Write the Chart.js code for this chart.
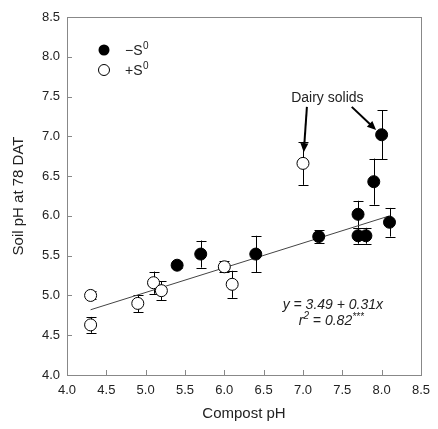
<!DOCTYPE html>
<html><head><meta charset="utf-8">
<script src="https://cdn.jsdelivr.net/npm/chart.js@4/dist/chart.umd.min.js"></script>
<style>html,body{margin:0;padding:0;background:#fff}canvas{display:block}</style>
</head><body>
<canvas id="c" width="438" height="429"></canvas>
<script>
// -S0 (filled)
const noSx = [5.4, 5.7, 6.4, 7.2, 7.7, 7.7, 7.8, 7.9, 8.0, 8.1];
const noSy = [5.38, 5.52, 5.52, 5.74, 6.02, 5.75, 5.75, 6.43, 7.02, 5.92];
const noSe = [0.03, 0.17, 0.23, 0.08, 0.17, 0.1, 0.1, 0.29, 0.31, 0.18];
// +S0 (open)
const withSx = [4.3, 4.3, 4.9, 5.1, 5.2, 6.0, 6.1, 7.0];
const withSy = [5.0, 4.63, 4.90, 5.16, 5.06, 5.36, 5.14, 6.66];
const withSe = [0.05, 0.1, 0.11, 0.14, 0.12, 0.07, 0.17, 0.27];
// regression line endpoints
const fitX = [4.3, 8.1];
const fitY = [4.82, 6.00];
const ticks = [4.0, 4.5, 5.0, 5.5, 6.0, 6.5, 7.0, 7.5, 8.0, 8.5];

const pts = (xs, ys) => xs.map((x, i) => ({x, y: ys[i]}));
const FONT = 'Liberation Sans, Arial, sans-serif';

const plugin = {
  id: 'extras',
  beforeDatasetsDraw(chart) {
    const ctx = chart.ctx, xs = chart.scales.x, ys = chart.scales.y;
    ctx.save();
    ctx.strokeStyle = '#000'; ctx.lineWidth = 1;
    const bars = (X, Y, E) => X.forEach((x, i) => {
      const px = Math.round(xs.getPixelForValue(x)) + 0.5;
      const t = ys.getPixelForValue(Y[i] + E[i]), b = ys.getPixelForValue(Y[i] - E[i]);
      ctx.beginPath();
      ctx.moveTo(px, t); ctx.lineTo(px, b);
      ctx.moveTo(px - 5, Math.round(t) + 0.5); ctx.lineTo(px + 5, Math.round(t) + 0.5);
      ctx.moveTo(px - 5, Math.round(b) + 0.5); ctx.lineTo(px + 5, Math.round(b) + 0.5);
      ctx.stroke();
    });
    bars(noSx, noSy, noSe);
    bars(withSx, withSy, withSe);
    ctx.restore();
  },
  afterDraw(chart) {
    const ctx = chart.ctx, xs = chart.scales.x, ys = chart.scales.y, a = chart.chartArea;
    ctx.save();
    // box
    ctx.strokeStyle = '#888'; ctx.lineWidth = 1;
    ctx.strokeRect(Math.round(a.left) + 0.5, Math.round(a.top) + 0.5, Math.round(a.right - a.left), Math.round(a.bottom - a.top));
    // inward ticks
    ctx.beginPath();
    ticks.forEach(v => {
      const px = Math.round(xs.getPixelForValue(v)) + 0.5;
      ctx.moveTo(px, a.bottom); ctx.lineTo(px, a.bottom - 5);
      const py = Math.round(ys.getPixelForValue(v)) + 0.5;
      ctx.moveTo(a.left, py); ctx.lineTo(a.left + 5, py);
    });
    ctx.stroke();
    // legend
    const lx = 104, ly1 = 50, ly2 = 70;
    ctx.fillStyle = '#000';
    ctx.beginPath(); ctx.arc(lx, ly1, 5.5, 0, Math.PI * 2); ctx.fill();
    ctx.fillStyle = '#fff'; ctx.strokeStyle = '#000';
    ctx.beginPath(); ctx.arc(lx, ly2, 5.5, 0, Math.PI * 2); ctx.fill(); ctx.stroke();
    ctx.fillStyle = '#222'; ctx.textBaseline = 'middle'; ctx.textAlign = 'left';
    const sup = (main, s, x, y) => {
      ctx.font = '14px ' + FONT;
      ctx.fillText(main, x, y + 1);
      const w = ctx.measureText(main).width;
      ctx.font = '10px ' + FONT;
      ctx.fillText(s, x + w + 0.5, y - 4);
    };
    sup('\u2212S', '0', 125, ly1);
    sup('+S', '0', 125, ly2);
    // Dairy solids annotation
    ctx.font = '14px ' + FONT; ctx.textAlign = 'center';
    ctx.fillText('Dairy solids', xs.getPixelForValue(7.31), ys.getPixelForValue(7.48));
    const arrow = (x1, y1, x2, y2) => {
      const X1 = xs.getPixelForValue(x1), Y1 = ys.getPixelForValue(y1);
      const X2 = xs.getPixelForValue(x2), Y2 = ys.getPixelForValue(y2);
      const ang = Math.atan2(Y2 - Y1, X2 - X1), L = 9, W = 4;
      ctx.strokeStyle = '#000'; ctx.lineWidth = 2;
      ctx.beginPath(); ctx.moveTo(X1, Y1);
      ctx.lineTo(X2 - Math.cos(ang) * L * 0.8, Y2 - Math.sin(ang) * L * 0.8); ctx.stroke();
      ctx.fillStyle = '#000';
      ctx.beginPath();
      ctx.moveTo(X2, Y2);
      ctx.lineTo(X2 - Math.cos(ang) * L - Math.sin(ang) * W, Y2 - Math.sin(ang) * L + Math.cos(ang) * W);
      ctx.lineTo(X2 - Math.cos(ang) * L + Math.sin(ang) * W, Y2 - Math.sin(ang) * L - Math.cos(ang) * W);
      ctx.closePath(); ctx.fill();
    };
    arrow(7.05, 7.37, 7.01, 6.80);
    arrow(7.62, 7.37, 7.93, 7.08);
    // equation
    ctx.fillStyle = '#222';
    ctx.font = 'italic 14px ' + FONT; ctx.textAlign = 'center';
    ctx.fillText('y = 3.49 + 0.31x', xs.getPixelForValue(7.38), ys.getPixelForValue(4.88));
    const ex = xs.getPixelForValue(7.36), ey = ys.getPixelForValue(4.68);
    const p1 = 'r', p3 = ' = 0.82';
    ctx.font = 'italic 14px ' + FONT;
    const w1 = ctx.measureText(p1).width, w3 = ctx.measureText(p3).width;
    ctx.font = 'italic 10px ' + FONT;
    const w2 = ctx.measureText('2').width, w4 = ctx.measureText('***').width;
    let x0 = ex - (w1 + w2 + w3 + w4) / 2;
    ctx.textAlign = 'left';
    ctx.font = 'italic 14px ' + FONT; ctx.fillText(p1, x0, ey);
    ctx.font = 'italic 10px ' + FONT; ctx.fillText('2', x0 + w1, ey - 5);
    ctx.font = 'italic 14px ' + FONT; ctx.fillText(p3, x0 + w1 + w2, ey);
    ctx.font = 'italic 10px ' + FONT; ctx.fillText('***', x0 + w1 + w2 + w3, ey - 4);
    ctx.restore();
  }
};

new Chart(document.getElementById('c'), {
  type: 'scatter',
  data: {
    datasets: [
      { label: '\u2212S0', data: pts(noSx, noSy), backgroundColor: '#000', borderColor: '#000', pointRadius: 6, borderWidth: 1 },
      { label: '+S0', data: pts(withSx, withSy), backgroundColor: '#fff', borderColor: '#000', pointRadius: 6, borderWidth: 1 },
      { type: 'line', label: 'fit', data: pts(fitX, fitY), borderColor: '#444', borderWidth: 1, pointRadius: 0, fill: false }
    ]
  },
  options: {
    responsive: false, animation: false, devicePixelRatio: 1,
    layout: { padding: { left: 0, top: 17, right: 11, bottom: 0 } },
    plugins: { legend: { display: false }, tooltip: { enabled: false } },
    scales: {
      x: {
        type: 'linear', min: 4, max: 8.5,
        afterBuildTicks: s => { s.ticks = ticks.map(v => ({value: v})); },
        afterFit: s => { s.height = 54; },
        grid: { display: false, drawTicks: false },
        border: { display: false },
        ticks: { padding: 8, color: '#222', font: { family: FONT, size: 13 }, callback: v => v.toFixed(1), maxRotation: 0, autoSkip: false },
        title: { display: true, text: 'Compost pH', color: '#222', font: { family: FONT, size: 15 }, padding: { bottom: 6 } }
      },
      y: {
        type: 'linear', min: 4, max: 8.5,
        afterBuildTicks: s => { s.ticks = ticks.map(v => ({value: v})); },
        afterFit: s => { s.width = 67; },
        grid: { display: false, drawTicks: false },
        border: { display: false },
        ticks: { padding: 7, color: '#222', font: { family: FONT, size: 13 }, callback: v => v.toFixed(1), autoSkip: false },
        title: { display: true, text: 'Soil pH at 78 DAT', color: '#222', font: { family: FONT, size: 15 }, padding: { top: 10 } }
      }
    }
  },
  plugins: [plugin]
});
</script>
</body></html>
